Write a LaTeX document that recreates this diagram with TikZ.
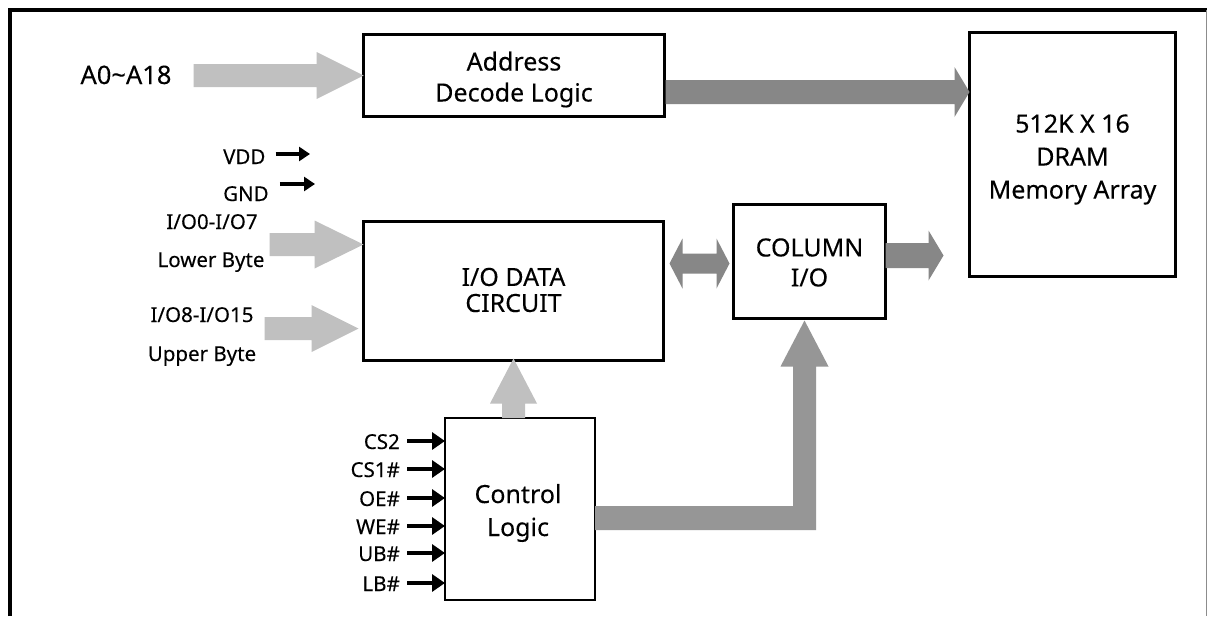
\documentclass[tikz,border=0pt]{standalone}
\usepackage{fontspec}
\setmainfont{Noto Sans}[FakeBold=0.2]
\usetikzlibrary{calc,arrows.meta}
\definecolor{lightg}{HTML}{C0C0C0}
\definecolor{darkg}{HTML}{878787}
\definecolor{midg}{HTML}{969696}
\newcommand\rfat[6]{\fill[#6] (#1) -- ++({-#5},{-#4}) -- ++(0,{#4-#3}) -- ++({-(#2-#5)},0) -- ++(0,{2*#3}) -- ++({#2-#5},0) -- ++(0,{#4-#3}) -- cycle;}
\begin{document}
\begin{tikzpicture}[x=1pt,y=-1pt,
  box/.style={draw, line width=3pt, outer sep=0pt, inner sep=0pt},
  boxtext/.style={align=center, inner sep=0pt, font=\fontsize{25}{31}\selectfont},
  sig/.style={line width=4pt, -{Triangle[length=13pt,width=17pt]}},
  pwr/.style={line width=4pt, -{Triangle[length=11pt,width=14pt]}},
  lbl/.style={inner sep=0pt, font=\fontsize{20.5}{24}\selectfont},
]
\useasboundingbox (0,0) rectangle (1207,616);
\fill[white] (0,0) rectangle (1207,616);
% frame
\draw[line width=4pt] (10,616) -- (10,10) -- (1207,10);
\draw[black!45, line width=1pt] (1206,10) -- (1206,616);

% blocks
\node[box, minimum width=301pt, minimum height=82pt,
  label={[boxtext, yshift=-4pt]center:Address\\Decode Logic}] (addr) at (514,75.5) {};
\node[box, minimum width=206pt, minimum height=244pt,
  label={[boxtext, font=\fontsize{25}{33}\selectfont, yshift=-5pt]center:512K X 16\\DRAM\\Memory Array}] (mem) at (1072.5,154.5) {};
\node[box, minimum width=300pt, minimum height=139pt,
  label={[boxtext, font=\fontsize{25}{26}\selectfont, yshift=1pt]center:I/O DATA\\CIRCUIT}] (iodata) at (513.5,291) {};
\node[box, minimum width=152pt, minimum height=114pt,
  label={[boxtext, font=\fontsize{25}{30}\selectfont, yshift=-1pt]center:COLUMN\\I/O}] (col) at (809.5,261.5) {};
\node[box, line width=2pt, minimum width=150pt, minimum height=182pt,
  label={[boxtext, font=\fontsize{25}{33}\selectfont, yshift=-4pt, xshift=-2pt]center:Control\\Logic}] (ctrl) at (520,509) {};

% left labels
\node[inner sep=0pt, anchor=base, font=\fontsize{25.5}{30}\selectfont] (a018) at (126,84) {A0\textasciitilde A18};
\node[lbl, anchor=base] (io07) at (212,229) {I/O0-I/O7};
\node[lbl, anchor=base] (lowb) at (211,267) {Lower Byte};
\node[lbl, anchor=base] (io815) at (202,322) {I/O8-I/O15};
\node[lbl, anchor=base] (uppb) at (202,361) {Upper Byte};
\node[lbl, anchor=base west] (vdd) at (223,164) {VDD};
\node[lbl, anchor=base west] (gnd) at (223,201) {GND};

% power arrows
\coordinate (vddA) at ($(vdd.base east)+(10,-10)$);
\coordinate (vddB) at (310,154);
\draw[pwr] (vddA) -- (vddB);
\coordinate (gndA) at ($(gnd.base east)+(11,-17)$);
\coordinate (gndB) at (315,184);
\draw[pwr] (gndA) -- (gndB);

% control inputs
\foreach \t/\yy [count=\i] in {CS2/441, CS1\#/469, OE\#/498, WE\#/526, UB\#/553, LB\#/583} {
  \node[lbl, anchor=base east] (s\i) at (400,\yy+8) {\t};
  \coordinate (c\i) at ($(s\i.base east)+(7,-8)$);
  \draw[sig] (c\i) -- (ctrl.west |- c\i);
}

% fat arrows
\rfat{addr.west}{170}{11.5}{23.5}{47}{lightg}
\rfat{$(mem.west|-addr.east)+(0,16.5)$}{304}{12}{25}{15}{darkg}
\rfat{$(iodata.north west)+(0,23)$}{94}{11.5}{24}{49}{lightg}
\rfat{$(iodata.south west)+(-5,-32)$}{94}{11.5}{23.5}{47}{lightg}
\rfat{$(col.east)+(58,-6)$}{58}{12.5}{25}{15}{darkg}

% double arrow iodata <-> column
\coordinate (dl) at ($(iodata.east|-col.west)+(6,2)$);
\coordinate (dr) at ($(col.west)+(-4,2)$);
\fill[darkg] (dl) -- ++(13,-25) -- ++(0,15) -- ($(dr)+(-13,-10)$) -- ++(0,-15) -- (dr)
  -- ++(-13,25) -- ++(0,-15) -- ($(dl)+(13,10)$) -- ++(0,15) -- cycle;

% control -> iodata
\coordinate (vt) at ($(iodata.south)+(0,-2)$);
\coordinate (vb) at (vt |- ctrl.north);
\fill[lightg] (vt) -- ($(vt)+(23.5,45)$) -- ($(vt)+(11.5,45)$) -- ($(vb)+(11.5,0)$)
  -- ($(vb)+(-11.5,0)$) -- ($(vt)+(-11.5,45)$) -- ($(vt)+(-23.5,45)$) -- cycle;

% control -> column (L-shaped)
\coordinate (Lt) at ($(col.south)+(-5,2)$);
\coordinate (Ls) at ($(ctrl.east)+(0,-3)$);
\coordinate (Lc) at (Lt |- Ls);
\fill[midg] (Ls) -- ($(Lc)+(-11.5,0)$) -- ($(Lt)+(-11.5,46)$) -- ($(Lt)+(-24,46)$) -- (Lt)
  -- ($(Lt)+(24,46)$) -- ($(Lt)+(11.5,46)$) -- ($(Lc)+(11.5,24)$) -- ($(Ls)+(0,24)$) -- cycle;
\end{tikzpicture}
\end{document}
